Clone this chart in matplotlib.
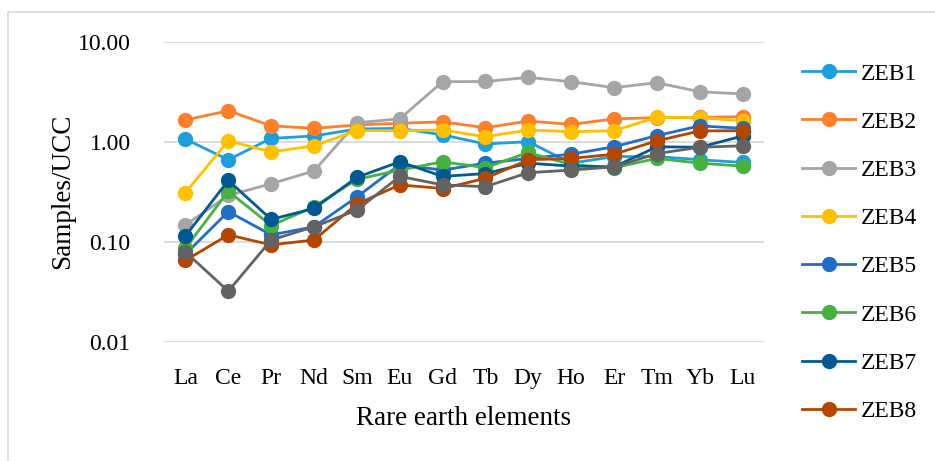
import matplotlib.pyplot as plt
from matplotlib.patches import Rectangle
from matplotlib.ticker import FixedLocator, FixedFormatter, NullLocator

plt.rcParams['font.family'] = ['Liberation Serif', 'DejaVu Serif']

# rare earth elements on the x axis
elements = ["La", "Ce", "Pr", "Nd", "Sm", "Eu", "Gd",
            "Tb", "Dy", "Ho", "Er", "Tm", "Yb", "Lu"]

# sample / UCC ratios
zeb1 = [1.06, 0.66, 1.08, 1.14, 1.34, 1.36, 1.17, 0.95, 1.00, 0.61, 0.71, 0.71, 0.66, 0.62]
zeb2 = [1.65, 2.04, 1.44, 1.36, 1.47, 1.53, 1.58, 1.38, 1.61, 1.49, 1.69, 1.74, 1.75, 1.78]
zeb3 = [0.147, 0.29, 0.38, 0.51, 1.55, 1.69, 3.98, 4.00, 4.40, 3.98, 3.47, 3.89, 3.16, 3.00]
zeb4 = [0.31, 1.02, 0.79, 0.91, 1.29, 1.29, 1.31, 1.12, 1.31, 1.26, 1.29, 1.75, 1.74, 1.62]
zeb5 = [0.075, 0.20, 0.117, 0.141, 0.28, 0.59, 0.52, 0.61, 0.68, 0.75, 0.89, 1.15, 1.44, 1.36]
zeb6 = [0.086, 0.32, 0.145, 0.224, 0.42, 0.52, 0.63, 0.55, 0.78, 0.59, 0.55, 0.68, 0.61, 0.57]
zeb7 = [0.114, 0.41, 0.167, 0.215, 0.44, 0.63, 0.45, 0.48, 0.61, 0.57, 0.56, 0.89, 0.88, 1.14]
zeb8 = [0.065, 0.117, 0.093, 0.104, 0.238, 0.37, 0.34, 0.43, 0.66, 0.68, 0.75, 1.02, 1.28, 1.29]
zeb9 = [0.079, 0.032, 0.104, 0.141, 0.207, 0.45, 0.37, 0.355, 0.49, 0.52, 0.56, 0.76, 0.88, 0.91]

series = [zeb1, zeb2, zeb3, zeb4, zeb5, zeb6, zeb7, zeb8, zeb9]
names = ["ZEB1", "ZEB2", "ZEB3", "ZEB4", "ZEB5", "ZEB6", "ZEB7", "ZEB8", "_ZEB9"]
colors = ["#1F9FDA", "#FF7F2A", "#A5A5A5", "#FFC000", "#1F6FC7",
          "#46B13F", "#005A91", "#B54600", "#636363"]

fig = plt.figure(figsize=(9.35, 4.61), dpi=100)

# light outer border (only top/left edges fall inside the image)
fig.patches.append(Rectangle((8 / 935, -0.1), 1.2, (461 - 12) / 461 + 0.1,
                             transform=fig.transFigure, fill=False,
                             edgecolor="#D9D9D9", linewidth=1.2))

ax = fig.add_axes([164 / 935, 119.3 / 461, 600 / 935, 300 / 461])

x = list(range(len(elements)))
for vals, name, col in zip(series, names, colors):
    ax.plot(x, vals, color=col, linewidth=2.0, marker="o", markersize=10,
            label=name)

ax.set_yscale("log")
ax.set_ylim(0.01, 10)
ax.set_xlim(-0.5, len(elements) - 0.5)
ax.yaxis.set_major_locator(FixedLocator([0.01, 0.1, 1, 10]))
ax.yaxis.set_major_formatter(FixedFormatter(["0.01", "0.10", "1.00", "10.00"]))
ax.yaxis.set_minor_locator(NullLocator())
ax.set_xticks(x)
ax.set_xticklabels(elements)

ax.grid(axis="y", color="#D9D9D9", linewidth=1.3)
ax.set_axisbelow(True)
for s in ax.spines.values():
    s.set_visible(False)
ax.tick_params(axis="both", length=0, labelsize=17)
ax.tick_params(axis="x", pad=19)
ax.tick_params(axis="y", pad=24)

ax.set_xlabel("Rare earth elements", fontsize=19.5, labelpad=12)
ax.set_ylabel("Samples/UCC", fontsize=19.5, labelpad=2)

fig.legend(loc="upper left", bbox_to_anchor=(802 / 935, 1 - 63 / 461),
           frameon=False, fontsize=17, handlelength=2.25, handletextpad=0.25,
           labelspacing=1.13, borderaxespad=0, borderpad=0)

fig.savefig("out.png", dpi=100)
